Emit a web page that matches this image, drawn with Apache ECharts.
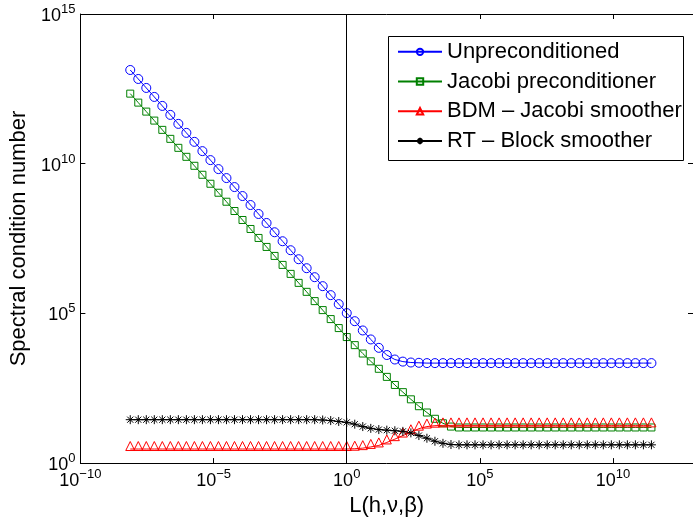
<!DOCTYPE html>
<html>
<head>
<meta charset="utf-8">
<script src="https://cdn.jsdelivr.net/npm/echarts@6/dist/echarts.min.js"></script>
<style>
html,body{margin:0;padding:0;background:#fff;}
#c{width:693px;height:522px;}
</style>
</head>
<body>
<div id="c"></div>
<script>
// x positions: L = 2^k
const xPow2 = [-27,-26,-25,-24,-23,-22,-21,-20,-19,-18,-17,-16,-15,-14,-13,-12,-11,-10,-9,-8,-7,-6,-5,-4,-3,-2,-1,
  0,1,2,3,4,5,6,7,8,9,10,11,12,13,14,15,16,17,18,19,20,21,22,23,24,25,26,27,28,29,30,31,32,33,34,35,36,37,38];

// series values, log10 of the spectral condition number
const unprecondLog10 = [13.13,12.83,12.53,12.23,11.93,11.63,11.33,11.03,10.73,10.42,10.12,9.82,9.52,9.22,8.92,8.62,8.32,8.02,7.71,7.41,7.11,6.81,6.51,6.21,5.91,5.61,5.31,
  5.01,4.74,4.43,4.13,3.85,3.61,3.46,3.39,3.36,3.35,
  3.34,3.34,3.34,3.34,3.34,3.34,3.34,3.34,3.34,3.34,3.34,3.34,3.34,3.34,3.34,3.34,3.34,3.34,3.34,3.34,3.34,3.34,3.34,3.34,3.34,3.34,3.34,3.34,3.34];

const jacobiLog10 = [12.34,12.04,11.74,11.44,11.13,10.83,10.53,10.23,9.93,9.63,9.33,9.03,8.73,8.42,8.12,7.82,7.52,7.22,6.92,6.62,6.32,6.02,5.72,5.41,5.11,4.81,4.51,
  4.21,3.94,3.66,3.40,3.15,2.88,2.61,2.37,2.13,1.90,1.69,1.48,1.33,1.22,
  1.19,1.19,1.19,1.19,1.19,1.19,1.19,1.19,1.19,1.19,1.19,1.19,1.19,1.19,1.19,1.19,1.19,1.19,1.19,1.19,1.19,1.19,1.19,1.19,1.19];

const bdmLog10 = [0.47,0.47,0.47,0.47,0.47,0.47,0.47,0.47,0.47,0.47,0.47,0.47,0.47,0.47,0.47,0.47,0.47,0.47,0.47,0.47,0.47,0.47,0.47,0.47,0.47,0.47,0.47,0.47,
  0.48,0.50,0.54,0.59,0.69,0.80,0.92,1.03,1.15,1.22,1.25,
  1.26,1.26,1.26,1.26,1.26,1.26,1.26,1.26,1.26,1.26,1.26,1.26,1.26,1.26,1.26,1.26,1.26,1.26,1.26,1.26,1.26,1.26,1.26,1.26,1.26,1.26,1.26];

const rtLog10 = [1.45,1.45,1.45,1.45,1.45,1.45,1.45,1.45,1.45,1.45,1.45,1.45,1.45,1.45,1.45,1.45,1.45,1.45,1.45,1.45,1.45,1.45,1.45,
  1.45,1.44,1.42,1.39,1.36,1.30,1.22,1.16,1.12,1.10,1.08,1.06,1.01,0.92,0.83,0.73,0.66,0.62,0.61,
  0.61,0.61,0.61,0.61,0.61,0.61,0.61,0.61,0.61,0.61,0.61,0.61,0.61,0.61,0.61,0.61,0.61,0.61,0.61,0.61,0.61,0.61,0.61,0.61];

const seriesNames = ['Unpreconditioned','Jacobi preconditioner','BDM \u2013 Jacobi smoother','RT \u2013 Block smoother'];
const xTickValues = [1e-10,1e-5,1,1e5,1e10];
const yTickValues = [1,1e5,1e10,1e15];
const xAxisName = 'L(h,\u03bd,\u03b2)';
const yAxisName = 'Spectral condition number';

const FONT = "'Liberation Sans', Arial, Helvetica, sans-serif";

function toPairs(logs){ return logs.map((v,i)=>[Math.pow(2,xPow2[i]), Math.pow(10,v)]); }
function expLabel(val){
  const e = Math.round(Math.log10(val));
  const s = e < 0 ? '\u2212' + Math.abs(e) : String(e);
  return '{b|10}{s|' + s + '}';
}
const richLab = {
  b:{fontSize:18, lineHeight:22, verticalAlign:'bottom', fontFamily:FONT, color:'#000'},
  s:{fontSize:13, lineHeight:13, verticalAlign:'top', fontFamily:FONT, color:'#000'}
};
const starPath = 'path://M0 5 L10 5 M5 0 L5 10 M1.6 1.6 L8.4 8.4 M1.6 8.4 L8.4 1.6';

const chart = echarts.init(document.getElementById('c'), null, {renderer:'canvas'});
const mk = (name, logs, color, symbol, size, extra) => Object.assign({
  name, type:'line', data: toPairs(logs), color,
  symbol, symbolSize:size, showAllSymbol:true,
  lineStyle:{color, width:1},
  itemStyle:{color:'rgba(0,0,0,0)', borderColor:color, borderWidth:1},
  emphasis:{disabled:true}, animation:false, clip:false
}, extra||{});

const Y_MAX = 1.000001e15;

chart.setOption({
  backgroundColor:'#fff',
  animation:false,
  textStyle:{fontFamily:FONT},
  grid:{left:74, top:14, right:-4, bottom:56, containLabel:false},
  legend:{
    orient:'vertical', left:397, top:37,
    itemWidth:44, itemHeight:8, itemGap:0, padding:0,
    textStyle:{fontSize:22, fontFamily:FONT, color:'#000', lineHeight:29.7},
    data: seriesNames, selectedMode:false
  },
  graphic:[{type:'rect', left:388, top:36, shape:{width:295, height:124}, style:{fill:'#fff', stroke:'#000', lineWidth:1}, z:-1, zlevel:0}],
  xAxis:[{
    type:'log', logBase:10, min:1e-10, max:1e13,
    name:xAxisName, nameLocation:'middle', nameGap:27,
    nameTextStyle:{fontSize:22, fontFamily:FONT, color:'#000'},
    axisLine:{show:true, onZero:false, lineStyle:{color:'#000', width:1}},
    axisTick:{show:true, inside:true, length:5, lineStyle:{color:'#000'}, customValues:xTickValues},
    axisLabel:{show:true, margin:5, formatter:expLabel, rich:richLab, customValues:xTickValues, showMinLabel:true, showMaxLabel:true, hideOverlap:false},
    splitLine:{show:false}, minorTick:{show:false}
  },{
    type:'log', logBase:10, min:1e-10, max:1e13, position:'top',
    axisLine:{show:true, onZero:false, lineStyle:{color:'#000', width:1}},
    axisTick:{show:true, inside:true, length:5, lineStyle:{color:'#000'}, customValues:xTickValues},
    axisLabel:{show:false}, splitLine:{show:false}
  }],
  yAxis:[{
    type:'log', logBase:10, min:1, max:Y_MAX,
    name:yAxisName, nameLocation:'middle', nameGap:45, nameRotate:90,
    nameTextStyle:{fontSize:22, fontFamily:FONT, color:'#000'},
    axisLine:{show:true, onZero:false, lineStyle:{color:'#000', width:1}},
    axisTick:{show:true, inside:true, length:5, lineStyle:{color:'#000'}, customValues:yTickValues},
    axisLabel:{show:true, margin:5, formatter:expLabel, rich:richLab, customValues:yTickValues, showMinLabel:true, showMaxLabel:true, hideOverlap:false},
    splitLine:{show:false}
  },{
    type:'log', logBase:10, min:1, max:Y_MAX, position:'right',
    axisLine:{show:true, onZero:false, lineStyle:{color:'#000', width:1}},
    axisTick:{show:true, inside:true, length:5, lineStyle:{color:'#000'}, customValues:yTickValues},
    axisLabel:{show:false}, splitLine:{show:false}
  }],
  series:[
    mk(seriesNames[0], unprecondLog10, '#0000ff', 'circle', 9, {
      markLine:{silent:true, symbol:'none', label:{show:false}, animation:false,
        lineStyle:{color:'#000', width:1, type:'solid'}, data:[{xAxis:1}]}
    }),
    mk(seriesNames[1], jacobiLog10, '#008000', 'rect', 7),
    mk(seriesNames[2], bdmLog10, '#ff0000', 'triangle', 9, {symbolOffset:[0,-3]}),
    mk(seriesNames[3], rtLog10, '#000000', starPath, 9, {itemStyle:{color:'rgba(0,0,0,0)', borderColor:'#000', borderWidth:1}})
  ]
});
</script>
</body>
</html>
